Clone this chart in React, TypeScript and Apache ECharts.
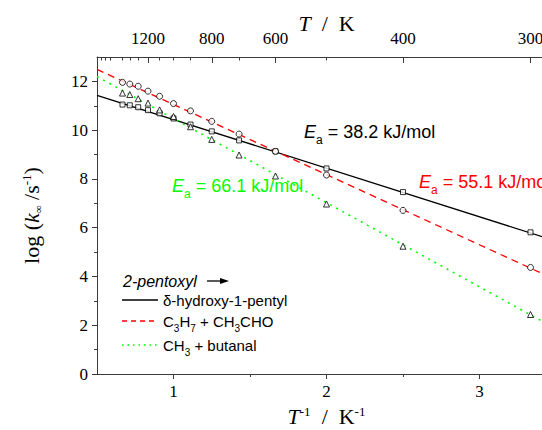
import React, { useEffect, useRef } from 'react';
import * as echarts from 'echarts';

// ---- data ----
const temperaturesK = [1500, 1400, 1300, 1200, 1100, 1000, 900, 800, 700, 600, 500, 400, 300];
const hydroxyPentyl = [11.05, 11.02, 10.94, 10.82, 10.69, 10.48, 10.23, 9.95, 9.58, 9.13, 8.43, 7.46, 5.81];
const propylAcetaldehyde = [11.96, 11.89, 11.8, 11.6, 11.39, 11.09, 10.79, 10.36, 9.84, 9.13, 8.16, 6.71, 4.37];
const methylButanal = [11.52, 11.46, 11.29, 11.11, 10.83, 10.56, 10.14, 9.62, 8.98, 8.12, 6.97, 5.24, 2.44];

const fitX = [0.5, 3.5];
const fitHydroxy = [11.43, 5.45];
const fitPropyl = [12.49, 3.86];
const fitMethyl = [12.2, 1.85];

const bottomTicks = [1, 2, 3];
const bottomMinorTicks = [1.5, 2.5];
const topTickTemps = [1200, 800, 600, 400, 300];
const topMinorTemps = [1900, 1800, 1700, 1500, 1400, 1300, 1100, 1000, 900, 700, 500];
const leftTicks = [0, 2, 4, 6, 8, 10, 12];
const leftMinorTicks = [1, 3, 5, 7, 9, 11];

const eaLabels = ['38.2', '55.1', '66.1'];
const legendTitle = '2-pentoxyl';

const SERIF = '"Liberation Serif", "Times New Roman", serif';
const SANS = '"Liberation Sans", Arial, sans-serif';
const AXIS_COLOR = '#3a3a3a';
const RED = '#ff0000';
const GREEN = '#00ff00';

const X_MIN = 0.5;
const X_MAX = 3.5;
const Y_MIN = 0;
const Y_MAX = 13;

const toPoints = (ys: number[]) => temperaturesK.map((t, i) => [1000 / t, ys[i]]);
const toLine = (ys: number[]) => fitX.map((x, i) => [x, ys[i]]);

const eaRich = (size: number) => ({
  e: { fontStyle: 'italic', fontFamily: SANS, fontSize: size },
  sub: { fontFamily: SANS, fontSize: Math.round(size * 0.68), padding: [16, 0, 0, 0] },
});

export default function App() {
  const ref = useRef<HTMLDivElement>(null);

  useEffect(() => {
    if (!ref.current) return;
    const chart = echarts.init(ref.current, undefined, { renderer: 'svg' });

    const axisBase = {
      type: 'value' as const,
      min: X_MIN,
      max: X_MAX,
      splitLine: { show: false },
    };

    const markerStyle = { color: '#ffffff', borderColor: '#000000', borderWidth: 1 };

    const legendSub = {
      sub: { fontFamily: SANS, fontSize: 10, padding: [14, 0, 0, 0] },
    };

    const option: any = {
      animation: false,
      backgroundColor: '#ffffff',
      grid: {
        left: 97,
        top: 57,
        width: 459,
        height: 317,
        containLabel: false,
        outerBoundsMode: 'none',
      },
      xAxis: [
        {
          ...axisBase,
          position: 'bottom',
          axisLine: { lineStyle: { color: AXIS_COLOR, width: 1 } },
          axisTick: { customValues: bottomTicks, length: 5, lineStyle: { color: AXIS_COLOR } },
          axisLabel: {
            customValues: bottomTicks,
            fontFamily: SERIF,
            fontSize: 17,
            color: '#000',
            margin: 9,
          },
          name: '{i|T}{sup|-1}\u00a0\u00a0/\u00a0\u00a0K{sup|-1}',
          nameLocation: 'middle',
          nameGap: 29,
          nameTextStyle: {
            fontFamily: SERIF,
            fontSize: 22,
            color: '#000',
            rich: {
              i: { fontStyle: 'italic', fontFamily: SERIF, fontSize: 22 },
              sup: { fontFamily: SERIF, fontSize: 13, padding: [0, 0, 10, 0] },
            },
          },
        },
        {
          ...axisBase,
          position: 'bottom',
          axisLine: { show: false },
          axisTick: { customValues: bottomMinorTicks, length: 3, lineStyle: { color: AXIS_COLOR } },
          axisLabel: { show: false },
        },
        {
          ...axisBase,
          position: 'top',
          axisLine: { lineStyle: { color: AXIS_COLOR, width: 1 } },
          axisTick: {
            customValues: topTickTemps.map((t) => 1000 / t),
            length: 6,
            inside: true,
            lineStyle: { color: AXIS_COLOR },
          },
          axisLabel: {
            customValues: topTickTemps.map((t) => 1000 / t),
            formatter: (v: number) => String(Math.round(1000 / v)),
            fontFamily: SERIF,
            fontSize: 17,
            color: '#000',
            margin: 10,
          },
          name: '{i|T}\u00a0\u00a0/\u00a0\u00a0K',
          nameLocation: 'middle',
          nameGap: 23,
          nameMoveOverlap: false,
          nameTextStyle: {
            fontFamily: SERIF,
            fontSize: 22,
            color: '#000',
            rich: { i: { fontStyle: 'italic', fontFamily: SERIF, fontSize: 22 } },
          },
        },
        {
          ...axisBase,
          position: 'top',
          axisLine: { show: false },
          axisTick: {
            customValues: topMinorTemps.map((t) => 1000 / t),
            length: 3.5,
            inside: true,
            lineStyle: { color: AXIS_COLOR },
          },
          axisLabel: { show: false },
        },
      ],
      yAxis: [
        {
          type: 'value',
          min: Y_MIN,
          max: Y_MAX,
          position: 'left',
          splitLine: { show: false },
          axisLine: { show: true, lineStyle: { color: AXIS_COLOR, width: 1 } },
          axisTick: { show: true, customValues: leftTicks, length: 5, lineStyle: { color: AXIS_COLOR } },
          axisLabel: {
            customValues: leftTicks,
            fontFamily: SERIF,
            fontSize: 17,
            color: '#000',
            margin: 9,
          },
          name: 'log\u00a0({i|k}{sub|\u221e}\u00a0/s{sup|-1})',
          nameLocation: 'middle',
          nameGap: 54,
          nameTextStyle: {
            fontFamily: SERIF,
            fontSize: 22,
            color: '#000',
            rich: {
              i: { fontStyle: 'italic', fontFamily: SERIF, fontSize: 22 },
              sub: { fontFamily: SERIF, fontSize: 11, padding: [12, 0, 0, 0] },
              sup: { fontFamily: SERIF, fontSize: 13, padding: [0, 0, 10, 0] },
            },
          },
        },
        {
          type: 'value',
          min: Y_MIN,
          max: Y_MAX,
          position: 'left',
          splitLine: { show: false },
          axisLine: { show: false },
          axisTick: { show: true, customValues: leftMinorTicks, length: 3, lineStyle: { color: AXIS_COLOR } },
          axisLabel: { show: false },
        },
      ],
      series: [
        {
          type: 'line',
          data: toLine(fitHydroxy),
          symbol: 'none',
          lineStyle: { color: '#000', width: 1.3, type: 'solid' },
          z: 2,
        },
        {
          type: 'line',
          data: toLine(fitPropyl),
          symbol: 'none',
          lineStyle: { color: RED, width: 1.3, type: [7, 5] },
          z: 2,
        },
        {
          type: 'line',
          data: toLine(fitMethyl),
          symbol: 'none',
          lineStyle: { color: GREEN, width: 1.6, type: [2, 5] },
          z: 2,
        },
        {
          type: 'scatter',
          data: toPoints(hydroxyPentyl),
          symbol: 'rect',
          symbolSize: 5,
          itemStyle: markerStyle,
          z: 3,
        },
        {
          type: 'scatter',
          data: toPoints(propylAcetaldehyde),
          symbol: 'circle',
          symbolSize: 6,
          itemStyle: markerStyle,
          z: 3,
        },
        {
          type: 'scatter',
          data: toPoints(methylButanal),
          symbol: 'triangle',
          symbolSize: 6,
          itemStyle: markerStyle,
          z: 3,
        },
      ],
      graphic: [
        {
          type: 'text',
          x: 304,
          y: 132,
          z: 10,
          style: {
            text: `{e|E}{sub|a} = ${eaLabels[0]} kJ/mol`,
            fill: '#000',
            fontFamily: SANS,
            fontSize: 18,
            verticalAlign: 'middle',
            rich: eaRich(18),
          },
        },
        {
          type: 'text',
          x: 419,
          y: 182,
          z: 10,
          style: {
            text: `{e|E}{sub|a} = ${eaLabels[1]} kJ/mol`,
            fill: RED,
            fontFamily: SANS,
            fontSize: 18,
            verticalAlign: 'middle',
            rich: eaRich(18),
          },
        },
        {
          type: 'text',
          x: 172,
          y: 186,
          z: 10,
          style: {
            text: `{e|E}{sub|a} = ${eaLabels[2]} kJ/mol`,
            fill: GREEN,
            fontFamily: SANS,
            fontSize: 18,
            verticalAlign: 'middle',
            rich: eaRich(18),
          },
        },
        // legend
        {
          type: 'text',
          x: 123,
          y: 281,
          z: 10,
          style: {
            text: legendTitle,
            fill: '#000',
            fontFamily: SANS,
            fontSize: 16,
            fontStyle: 'italic',
            verticalAlign: 'middle',
          },
        },
        {
          type: 'line',
          z: 10,
          shape: { x1: 207, y1: 281, x2: 222, y2: 281 },
          style: { stroke: '#000', lineWidth: 1.3 },
        },
        {
          type: 'polygon',
          z: 10,
          shape: { points: [[220, 278], [229, 281], [220, 284]] },
          style: { fill: '#000' },
        },
        {
          type: 'line',
          z: 10,
          shape: { x1: 122, y1: 300, x2: 158, y2: 300 },
          style: { stroke: '#000', lineWidth: 1.3 },
        },
        {
          type: 'text',
          x: 163,
          y: 300,
          z: 10,
          style: {
            text: '\u03b4-hydroxy-1-pentyl',
            fill: '#000',
            fontFamily: SANS,
            fontSize: 15,
            verticalAlign: 'middle',
          },
        },
        {
          type: 'line',
          z: 10,
          shape: { x1: 122, y1: 321, x2: 158, y2: 321 },
          style: { stroke: RED, lineWidth: 1.3, lineDash: [5, 4] },
        },
        {
          type: 'text',
          x: 163,
          y: 321,
          z: 10,
          style: {
            text: 'C{sub|3}H{sub|7} + CH{sub|3}CHO',
            fill: '#000',
            fontFamily: SANS,
            fontSize: 15,
            verticalAlign: 'middle',
            rich: legendSub,
          },
        },
        {
          type: 'line',
          z: 10,
          shape: { x1: 122, y1: 345, x2: 158, y2: 345 },
          style: { stroke: GREEN, lineWidth: 1.5, lineDash: [1.5, 4] },
        },
        {
          type: 'text',
          x: 163,
          y: 345,
          z: 10,
          style: {
            text: 'CH{sub|3} + butanal',
            fill: '#000',
            fontFamily: SANS,
            fontSize: 15,
            verticalAlign: 'middle',
            rich: legendSub,
          },
        },
      ],
    };

    chart.setOption(option);
    return () => chart.dispose();
  }, []);

  return (
    <div
      ref={ref}
      style={{ position: 'fixed', left: 0, top: 0, width: 542, height: 430, background: '#fff' }}
    />
  );
}
